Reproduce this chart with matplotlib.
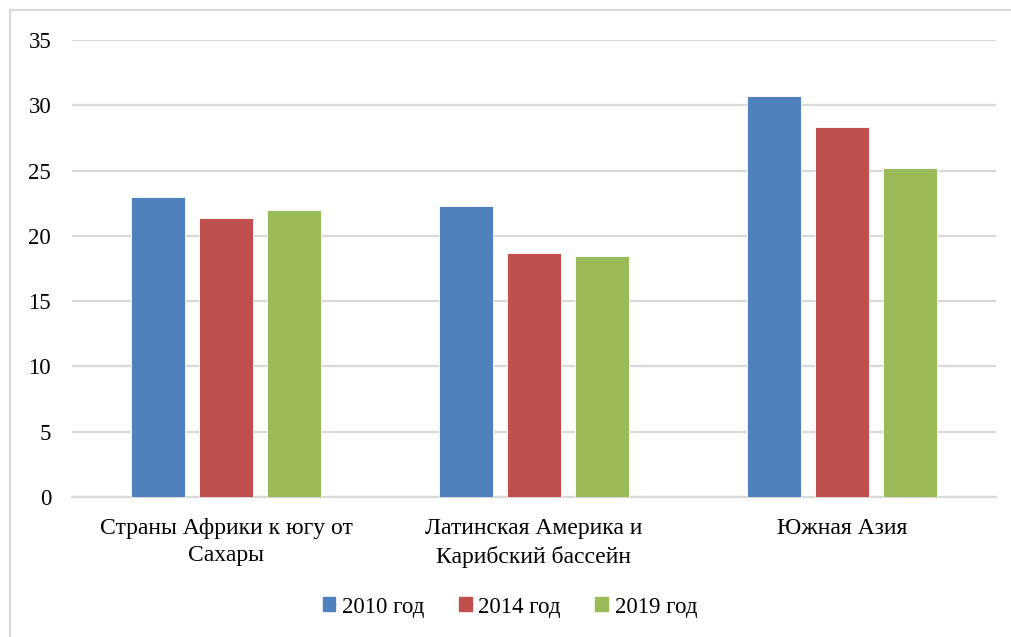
import matplotlib
matplotlib.use("Agg")
import matplotlib.pyplot as plt
import numpy as np
from matplotlib.patches import Rectangle
from matplotlib.lines import Line2D

categories = ["Страны Африки к югу от\nСахары", "Латинская Америка и\nКарибский бассейн", "Южная Азия"]
series_names = ["2010 год", "2014 год", "2019 год"]
v2010 = [23.0, 22.3, 30.7]
v2014 = [21.4, 18.7, 28.35]
v2019 = [22.0, 18.45, 25.2]
colors = ["#4F81BD", "#C0504D", "#9BBB59"]
yticks = [0, 5, 10, 15, 20, 25, 30, 35]

plt.rcParams['font.family'] = ['Liberation Serif', 'DejaVu Serif']

fig = plt.figure(figsize=(10.11, 6.37), dpi=100)
ax = fig.add_axes([72/1011, 1-497/637, (996-72)/1011, (497-40)/637])

x = np.arange(len(categories))
w = 0.175
off = 0.22
for i, (vals, c, name) in enumerate(zip([v2010, v2014, v2019], colors, series_names)):
    ax.bar(x + (i-1)*off, vals, width=w, color=c, edgecolor='white', linewidth=0.6, label=name, zorder=3)

ax.set_xlim(-0.5, 2.5)
ax.set_ylim(0, 35)
ax.set_yticks(yticks)
ax.set_yticklabels([str(t) for t in yticks], fontsize=16.5)
ax.set_xticks(x)
ax.set_xticklabels(categories, fontsize=17, linespacing=1.4)
ax.tick_params(axis='both', length=0)
ax.tick_params(axis='y', pad=15)
ax.tick_params(axis='x', pad=15)
ax.grid(axis='y', color='#d9d9d9', linewidth=1.6, zorder=0)
for s in ['top', 'right', 'left']:
    ax.spines[s].set_visible(False)
ax.spines['bottom'].set_color('#d9d9d9')
ax.spines['bottom'].set_linewidth(1.6)

handles = [Rectangle((0, 0), 1, 1, color=c) for c in colors]
fig.legend(handles, series_names, loc='center', bbox_to_anchor=(510/1011, 1-607/637),
           ncol=3, frameon=False, fontsize=16.5, handlelength=0.55, handleheight=0.55,
           handletextpad=0.3, columnspacing=1.5)

# outer chart frame
fig.add_artist(Line2D([10/1011, 1], [1-10/637, 1-10/637], color='#d9d9d9', linewidth=1.5, transform=fig.transFigure))
fig.add_artist(Line2D([10/1011, 10/1011], [0, 1-10/637], color='#d9d9d9', linewidth=1.5, transform=fig.transFigure))

fig.savefig("out.png", dpi=100)
